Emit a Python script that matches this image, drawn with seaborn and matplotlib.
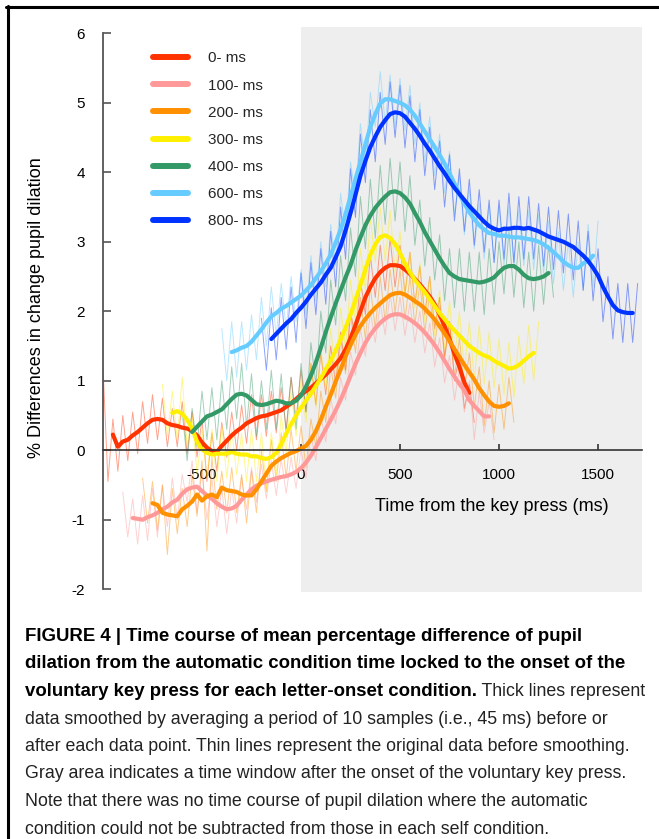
import numpy as np
import pandas as pd
import matplotlib
matplotlib.use("Agg")
import matplotlib.pyplot as plt
from matplotlib.lines import Line2D
import seaborn as sns

# ---------------------------------------------------------------- data
conditions = ["0- ms", "100- ms", "200- ms", "300- ms", "400- ms", "600- ms", "800- ms"]
line_colors = ["#FF3300", "#FF9999", "#FF9000", "#FFF000", "#339966", "#66CCFF", "#0033FF"]

step_ms = 25                                       # sample spacing of the raw traces
first_ms = [-1000, -900, -800, -700, -600, -400, -200]

raw_0 = [1.20, -0.45, 0.45, -0.30, 0.50, -0.15, 0.55, -0.05, 0.70, 0.10,
         0.80, 0.15, 0.75, 0.05, 0.60, 0.05, 0.70, -0.05, 0.55, -0.10,
         0.45, -0.45, 0.25, -0.30, 0.40, -0.10, 0.55, 0.00, 0.65, 0.10,
         0.80, 0.15, 0.80, 0.20, 0.85, 0.25, 0.90, 0.30, 1.05, 0.45,
         1.15, 0.55, 1.25, 0.65, 1.40, 0.80, 1.50, 0.95, 1.70, 1.15,
         2.00, 1.60, 2.45, 1.95, 2.80, 2.20, 2.95, 2.30, 3.05, 2.35,
         2.95, 2.25, 2.85, 2.10, 2.65, 1.95, 2.50, 1.75, 2.20, 1.35,
         1.85, 1.00, 1.35, 0.60, 0.95, 0.40]

raw_100 = [-0.60, -1.25, -0.70, -1.35, -0.65, -1.30, -0.55, -1.25, -0.50, -1.10,
           -0.40, -1.00, -0.35, -0.75, -0.15, -0.90, -0.30, -1.00, -0.40, -1.10,
           -0.55, -1.20, -0.55, -1.05, -0.40, -0.85, -0.25, -0.75, -0.20, -0.70,
           -0.15, -0.65, -0.12, -0.62, -0.10, -0.55, 0.02, -0.40, 0.22, -0.15,
           0.50, 0.12, 0.75, 0.38, 1.05, 0.72, 1.42, 1.08, 1.75, 1.35,
           2.00, 1.55, 2.12, 1.66, 2.25, 1.72, 2.20, 1.65, 2.12, 1.55,
           2.00, 1.40, 1.83, 1.20, 1.62, 0.97, 1.36, 0.72, 1.18, 0.55,
           1.00, 0.15, 0.85, 0.25, 0.70, 0.15]

raw_200 = [-0.40, -1.05, -0.45, -1.15, -0.50, -1.50, -0.55, -1.20, -0.55, -1.10,
           -0.35, -0.95, -0.15, -1.45, -0.10, -0.85, -0.30, -0.90, -0.25, -0.90,
           -0.35, -1.05, -0.30, -0.90, 0.00, -0.60, 0.15, -0.45, 0.25, -0.40,
           0.30, -0.30, 0.35, -0.25, 0.45, 0.05, 0.85, 0.40, 1.20, 0.75,
           1.60, 1.10, 1.95, 1.40, 2.20, 1.60, 2.35, 1.75, 2.50, 1.85,
           2.60, 1.98, 2.60, 1.88, 2.50, 1.80, 2.40, 1.70, 2.25, 1.50,
           2.08, 1.30, 1.85, 1.05, 1.62, 0.85, 1.40, 0.62, 1.20, 0.35,
           1.00, 0.25, 0.95, 0.30, 1.05, 0.40]

raw_300 = [0.95, 0.20, 0.85, 0.15, 1.05, 0.05, 0.50, -0.35, 0.30, -0.40,
           0.30, -0.45, 0.35, -0.40, 0.30, -0.35, 0.25, -0.45, 0.30, -0.45,
           0.25, -0.55, 0.25, -0.35, 0.50, -0.05, 0.85, 0.20, 1.00, 0.40,
           1.25, 0.60, 1.45, 0.85, 1.75, 1.10, 2.05, 1.45, 2.45, 1.85,
           2.90, 2.30, 3.35, 2.70, 3.50, 2.72, 3.45, 2.55, 3.15, 2.20,
           2.85, 2.05, 2.70, 1.85, 2.50, 1.65, 2.30, 1.45, 2.15, 1.30,
           2.00, 1.15, 1.85, 1.00, 1.80, 0.95, 1.70, 0.90, 1.60, 0.80,
           1.55, 0.75, 1.65, 0.95, 1.80, 1.00, 1.85]

raw_400 = [0.55, -0.15, 0.60, 0.05, 0.85, 0.15, 0.90, 0.15, 1.00, 0.30,
           1.20, 0.45, 1.25, 0.35, 1.10, 0.20, 1.00, 0.30, 1.15, 0.30,
           1.10, 0.25, 1.05, 0.30, 1.25, 0.55, 1.55, 0.95, 2.00, 1.40,
           2.45, 1.80, 2.80, 2.15, 3.20, 2.50, 3.65, 2.90, 3.90, 3.05,
           4.10, 3.25, 4.20, 3.30, 4.15, 3.15, 3.95, 2.95, 3.60, 2.65,
           3.35, 2.45, 3.10, 2.15, 2.90, 2.05, 2.90, 2.00, 2.85, 2.00,
           2.85, 1.95, 2.90, 2.10, 3.00, 2.25, 3.15, 2.20, 3.00, 2.05,
           2.85, 2.00, 2.95, 2.10, 2.95, 2.20]

raw_600 = [1.75, 1.00, 1.85, 1.05, 1.85, 1.15, 1.95, 1.30, 2.20, 1.50,
           2.35, 1.65, 2.40, 1.75, 2.50, 1.85, 2.60, 1.95, 2.80, 2.15,
           3.00, 2.35, 3.25, 2.65, 3.70, 3.10, 4.15, 3.65, 4.70, 4.10,
           5.15, 4.65, 5.45, 4.70, 5.40, 4.65, 5.35, 4.60, 5.25, 4.40,
           5.00, 4.15, 4.80, 3.95, 4.55, 3.70, 4.30, 3.40, 3.95, 3.10,
           3.75, 2.90, 3.55, 2.75, 3.50, 2.70, 3.50, 2.65, 3.50, 2.65,
           3.45, 2.65, 3.45, 2.60, 3.40, 2.55, 3.30, 2.40, 3.15, 2.30,
           3.00, 2.20, 3.00, 2.30, 3.25, 2.35, 3.30]

raw_800 = [1.90, 1.15, 2.05, 1.30, 2.20, 1.45, 2.35, 1.55, 2.55, 1.75,
           2.70, 1.95, 2.90, 2.10, 3.15, 2.35, 3.50, 2.75, 4.05, 3.35,
           4.55, 3.85, 4.90, 4.15, 5.15, 4.40, 5.30, 4.50, 5.25, 4.35,
           5.10, 4.15, 4.90, 3.95, 4.65, 3.75, 4.45, 3.50, 4.25, 3.30,
           4.05, 3.15, 3.90, 2.95, 3.75, 2.85, 3.60, 2.70, 3.60, 2.75,
           3.70, 2.70, 3.65, 2.75, 3.65, 2.75, 3.55, 2.65, 3.50, 2.60,
           3.45, 2.55, 3.40, 2.45, 3.30, 2.30, 3.15, 2.15, 2.90, 1.85,
           2.50, 1.60, 2.40, 1.55, 2.40, 1.55, 2.40]

raw_series = [raw_0, raw_100, raw_200, raw_300, raw_400, raw_600, raw_800]

x_ticks = [-500, 0, 500, 1000, 1500]
y_ticks = [-2, -1, 0, 1, 2, 3, 4, 5, 6]
x_label = "Time from the key press (ms)"
y_label = "% Differences in change pupil dilation"

caption_bold = ["FIGURE 4 | Time course of mean percentage difference of pupil",
                "dilation from the automatic condition time locked to the onset of the",
                "voluntary key press for each letter-onset condition."]
caption_tail = " Thick lines represent"
caption_plain = ["data smoothed by averaging a period of 10 samples (i.e., 45 ms) before or",
                 "after each data point. Thin lines represent the original data before smoothing.",
                 "Gray area indicates a time window after the onset of the voluntary key press.",
                 "Note that there was no time course of pupil dilation where the automatic",
                 "condition could not be subtracted from those in each self condition."]

# ---------------------------------------------------------- tidy table
frames = []
for cond, t0, vals in zip(conditions, first_ms, raw_series):
    t = t0 + step_ms * np.arange(len(vals))
    frames.append(pd.DataFrame({"condition": cond, "time": t, "raw": vals}))
df = pd.concat(frames, ignore_index=True)
# thick trace = running mean over neighbouring samples
df["smooth"] = df.groupby("condition")["raw"].transform(
    lambda s: s.rolling(4, center=True).mean())
smooth_df = df.dropna(subset=["smooth"])

# --------------------------------------------------------------- style
sns.set_theme(style="white")
plt.rcParams["font.family"] = ["Liberation Sans", "DejaVu Sans"]
plt.rcParams["axes.unicode_minus"] = False

W, H = 659, 839
fig = plt.figure(figsize=(W / 100, H / 100), dpi=100)
fig.patch.set_facecolor("white")
ax = fig.add_axes([103 / W, 1 - 592 / H, 539 / W, 565 / H])
ax.set_facecolor("white")
ax.set_xlim(-1000, 1722)
ax.set_ylim(-2.04, 6.09)

# window after the key press
ax.axvspan(0, 1722, color="#EEEEEE", lw=0, zorder=0)

palette = dict(zip(conditions, line_colors))
sns.lineplot(data=df, x="time", y="raw", hue="condition", hue_order=conditions,
             palette=palette, estimator=None, lw=0.7, alpha=0.45,
             legend=False, ax=ax)
sns.lineplot(data=smooth_df, x="time", y="smooth", hue="condition",
             hue_order=conditions, palette=palette, estimator=None, lw=3.0,
             legend=False, ax=ax)

# axes: y spine on the left, x axis running through zero
for side in ["top", "right"]:
    ax.spines[side].set_visible(False)
ax.spines["left"].set_bounds(-2, 6)
ax.spines["left"].set_color("#555555")
ax.spines["left"].set_linewidth(1.3)
ax.spines["bottom"].set_position(("data", 0))
ax.spines["bottom"].set_color("#333333")
ax.spines["bottom"].set_linewidth(1.2)
ax.spines["left"].set_zorder(5)
ax.spines["bottom"].set_zorder(5)

ax.set_xticks(x_ticks)
ax.set_yticks(y_ticks)
ax.tick_params(axis="y", left=True, direction="in", length=5.5, width=1.2,
               pad=13, color="#555555", labelcolor="black", labelsize=11)
ax.tick_params(axis="x", bottom=True, direction="in", length=4.5, width=1.2,
               pad=13, color="#333333", labelcolor="black", labelsize=11)

ax.set_xlabel(x_label, fontsize=13, color="black")
ax.xaxis.set_label_coords(0.7217, 0.166)
ax.set_ylabel(y_label, fontsize=13, color="black")
ax.yaxis.set_label_coords(-0.108, 0.503)

handles = [Line2D([], [], color=c, lw=4.3, solid_capstyle="round") for c in line_colors]
ax.legend(handles, conditions, loc="upper left",
          bbox_to_anchor=(152.5 / W, 1 - 51.5 / H), bbox_transform=fig.transFigure,
          frameon=False, fontsize=11, handlelength=2.3, handletextpad=1.35,
          labelspacing=0.86, borderpad=0, borderaxespad=0)

# frame edges on the top and left of the panel
fig.add_artist(Line2D([6 / W, 1], [1 - 6.5 / H] * 2, transform=fig.transFigure,
                      color="black", lw=2.2))
fig.add_artist(Line2D([7.5 / W] * 2, [0, 1 - 5.5 / H], transform=fig.transFigure,
                      color="black", lw=2.2))

# caption
cap_x = 25 / W
bold_size, plain_size = 13.4, 12.8
baseline0, line_gap = 641, 27.5
lines_done = 0
for i, txt in enumerate(caption_bold):
    y = 1 - (baseline0 + line_gap * i) / H
    t = fig.text(cap_x, y, txt, fontsize=bold_size, fontweight="bold",
                 va="baseline", ha="left", color="black")
    lines_done += 1
fig.canvas.draw()
bb = t.get_window_extent(fig.canvas.get_renderer())
fig.text(bb.x1 / W, y, caption_tail, fontsize=plain_size, va="baseline",
         ha="left", color="#222222")
for j, txt in enumerate(caption_plain):
    y = 1 - (baseline0 + line_gap * (lines_done + j)) / H
    fig.text(cap_x, y, txt, fontsize=plain_size, va="baseline", ha="left",
             color="#222222")

fig.savefig("out.png", dpi=100)
